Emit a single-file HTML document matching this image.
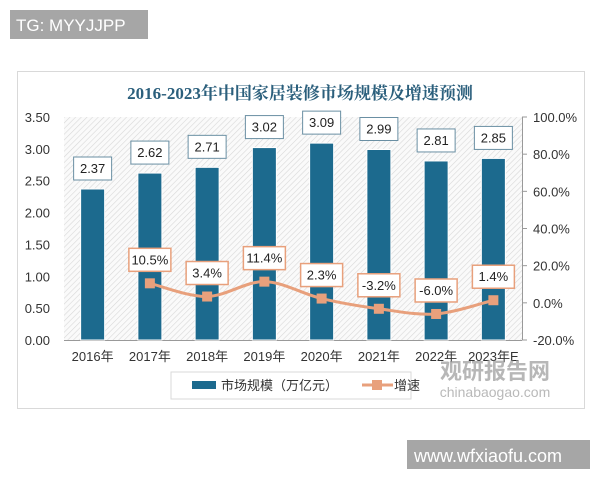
<!DOCTYPE html>
<html><head><meta charset="utf-8"><style>
body{margin:0;background:#fff;width:600px;height:480px;overflow:hidden;font-family:"Liberation Sans","Noto Sans CJK SC",sans-serif}
</style></head><body>
<svg id="c" width="600" height="480" xmlns="http://www.w3.org/2000/svg">
<defs>
<pattern id="hatch" width="4" height="4" patternUnits="userSpaceOnUse" patternTransform="rotate(45)">
<rect width="4" height="4" fill="#fafafa"/><line x1="0" y1="0" x2="0" y2="4" stroke="#d8d8d8" stroke-width="1.2"/>
</pattern>
</defs>
<rect x="10" y="10" width="138" height="29" fill="#a6a6a6"/>
<text x="16" y="31" font-size="17" fill="#fff">TG: MYYJJPP</text>
<rect x="17.5" y="71.5" width="567" height="337" fill="#fff" stroke="#d9d9d9"/>
<text x="300" y="99" text-anchor="middle" font-size="17" font-weight="bold" fill="#2b5f7c" font-family="'Liberation Serif','Noto Serif CJK SC',serif">2016-2023年中国家居装修市场规模及增速预测</text>
<rect x="64" y="117" width="458" height="223" fill="url(#hatch)"/>
<g id="g"></g>
<rect x="171" y="372" width="240" height="27" fill="#fff" stroke="#d9d9d9"/>
<rect x="192" y="381" width="24" height="8" fill="#1c6a8e"/>
<text x="221" y="390" font-size="13" fill="#333">市场规模（万亿元）</text>
<line x1="362" y1="385" x2="393" y2="385" stroke="#e8a07c" stroke-width="3"/>
<rect x="372" y="380" width="10" height="10" fill="#e8a07c"/>
<text x="394" y="390" font-size="13" fill="#333">增速</text>
<text x="495" y="379" text-anchor="middle" font-size="22" font-weight="bold" fill="#9a9a9a" opacity="0.7">观研报告网</text>
<text x="495" y="397" text-anchor="middle" font-size="14" fill="#a8a8a8" opacity="0.8">chinabaogao.com</text>
<rect x="407" y="440" width="183" height="29" fill="#a6a6a6"/>
<text x="414" y="462" font-size="18" fill="#fff">www.wfxiaofu.com</text>
</svg>
<script>
const categories=["2016年","2017年","2018年","2019年","2020年","2021年","2022年","2023年E"];
const sizeValues=[2.37,2.62,2.71,3.02,3.09,2.99,2.81,2.85];
const growthValues=[null,10.5,3.4,11.4,2.3,-3.2,-6.0,1.4];
const leftTicks=["0.00","0.50","1.00","1.50","2.00","2.50","3.00","3.50"];
const rightTicks=["-20.0%","0.0%","20.0%","40.0%","60.0%","80.0%","100.0%"];
const NS="http://www.w3.org/2000/svg";
const g=document.getElementById('g');
const x0=64,x1=522,yTop=117,yBot=340;
const yL=v=>yBot-(v/3.5)*(yBot-yTop);
const yR=v=>yBot-((v+20)/120)*(yBot-yTop);
const step=(x1-x0)/categories.length;
const xC=i=>x0+step*(i+0.5);
function mk(t,a,txt){const e=document.createElementNS(NS,t);for(const k in a)e.setAttribute(k,a[k]);if(txt!==undefined)e.textContent=txt;g.appendChild(e);return e;}
leftTicks.forEach(t=>{const e=mk('text',{x:50,y:yL(parseFloat(t))+5,'text-anchor':'end','font-size':13,fill:'#333'},t);

});
rightTicks.forEach(t=>{const v=parseFloat(t);const e=mk('text',{x:533,y:yR(v)+5,'font-size':13,fill:'#333'},t);


const l=mk('line',{x1:522,x2:527,y1:yR(v),y2:yR(v),stroke:'#999'});

});
let ax=mk('line',{x1:522.5,x2:522.5,y1:yTop,y2:yBot,stroke:'#999'});


let bx=mk('line',{x1:x0,x2:x1,y1:yBot+0.5,y2:yBot+0.5,stroke:'#999'});


const bw=24;
sizeValues.forEach((v,i)=>{
const b=mk('rect',{x:xC(i)-bw/2,y:yL(v),width:bw,height:yBot-yL(v),fill:'#1c6a8e',stroke:'#fff','stroke-width':1});


const by=yL(v)-32;
const r=mk('rect',{x:xC(i)-19,y:by,width:38,height:23,fill:'#fff',stroke:'#6a8fa3','stroke-width':1});


const t=mk('text',{x:xC(i),y:by+16,'text-anchor':'middle','font-size':13,fill:'#222'},v.toFixed(2));


const xl=mk('text',{x:xC(i),y:361,'text-anchor':'middle','font-size':13,fill:'#333'},categories[i]);


});
const pts=[];growthValues.forEach((v,i)=>{if(v!==null)pts.push([xC(i),yR(v)]);});
let d='M'+pts[0][0]+','+pts[0][1];
for(let i=0;i<pts.length-1;i++){const p0=pts[Math.max(i-1,0)],p1=pts[i],p2=pts[i+1],p3=pts[Math.min(i+2,pts.length-1)];
d+=` C${p1[0]+(p2[0]-p0[0])/6},${p1[1]+(p2[1]-p0[1])/6} ${p2[0]-(p3[0]-p1[0])/6},${p2[1]-(p3[1]-p1[1])/6} ${p2[0]},${p2[1]}`;}
const ln=mk('path',{d:d,fill:'none',stroke:'#e8a07c','stroke-width':3});


growthValues.forEach((v,i)=>{if(v===null)return;
const m=mk('rect',{x:xC(i)-5,y:yR(v)-5,width:10,height:10,fill:'#e8a07c'});


const by=yR(v)-35;
const r=mk('rect',{x:xC(i)-21,y:by,width:42,height:23,fill:'#fff',stroke:'#e8a07c','stroke-width':1.5});


const t=mk('text',{x:xC(i),y:by+16,'text-anchor':'middle','font-size':13,fill:'#222'},v.toFixed(1)+'%');


});
</script>
</body></html>
